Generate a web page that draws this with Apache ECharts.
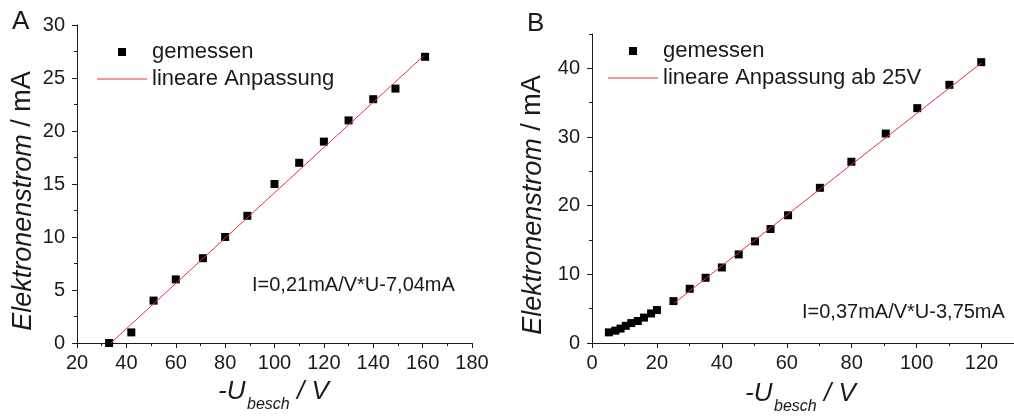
<!DOCTYPE html>
<html>
<head>
<meta charset="utf-8">
<script src="https://cdn.jsdelivr.net/npm/echarts@6/dist/echarts.min.js"></script>
<style>
  html, body { margin: 0; padding: 0; background: #fff; }
  #chart { width: 1014px; height: 417px; }
</style>
</head>
<body>
<div id="chart"></div>
<script>
// Panel A: gemessen
const uA = [33, 42, 51, 60, 71, 80, 89, 100, 110, 120, 130, 140, 149, 161];
const iA = [0, 1, 4, 6, 8, 10, 12, 15, 17, 19, 21, 23, 24, 27];
// Panel A: lineare Anpassung (Endpunkte)
const fitAx = [33.7, 160.5];
const fitAy = [0, 27.1];

// Panel B: gemessen
const uB = [5.2, 7.2, 8.8, 10.4, 12.1, 14.1, 16, 18.2, 20, 25.1, 30.1, 35, 40, 45.2, 50.2, 55, 60.4, 70.2, 79.9, 90.5, 100.2, 110.1, 119.9];
const iB = [1.55, 1.8, 2.1, 2.5, 2.9, 3.2, 3.7, 4.3, 4.8, 6.1, 7.9, 9.5, 11.0, 12.9, 14.8, 16.6, 18.6, 22.6, 26.4, 30.5, 34.2, 37.6, 40.9];
// Panel B: lineare Anpassung ab 25V (Endpunkte)
const fitBx = [25.3, 120];
const fitBy = [5.8, 40.8];

// tick labels
const ticksAx = [20, 40, 60, 80, 100, 120, 140, 160, 180];
const ticksAy = [0, 5, 10, 15, 20, 25, 30];
const ticksBx = [0, 20, 40, 60, 80, 100, 120];
const ticksBy = [0, 10, 20, 30, 40];

const FONT = '"Liberation Sans", Arial, sans-serif';
const INK = '#1a1a1a';
const RED = '#e8303a';

// legend icons: a small square and a plain thin line
const ICON_SQUARE = 'path://M0 0H1V1H0Z';
const ICON_LINE = 'path://M0 0H50V1H0Z';

const pairs = (xs, ys) => xs.map((x, i) => [x, ys[i]]);

// one axis for the short (minor) ticks and the line, one on top for long ticks + labels
function axisPair(dim, grid, min, max, step, majors) {
  const pos = dim === 'x' ? 'bottom' : 'left';
  const line = { color: INK, width: 1 };
  return [
    {
      type: 'value', gridIndex: grid, position: pos, min: min, max: max, interval: step,
      axisLine: { show: true, onZero: false, lineStyle: line },
      axisTick: { show: true, length: 3, lineStyle: line },
      axisLabel: { show: false },
      splitLine: { show: false }
    },
    {
      type: 'value', gridIndex: grid, position: pos, min: min, max: max,
      axisLine: { show: false, onZero: false },
      axisTick: { show: true, length: 5, customValues: majors, lineStyle: line },
      axisLabel: {
        customValues: majors, fontSize: 20, color: INK, fontFamily: FONT,
        margin: dim === 'x' ? 10 : 12
      },
      splitLine: { show: false }
    }
  ];
}

const legendText = { fontSize: 22, color: INK, fontFamily: FONT };

function xTitle(x, y) {
  return {
    type: 'group', x: x, y: y,
    children: [
      { type: 'text', x: 0, y: 0, style: { text: '-U', font: 'italic 26px ' + FONT, fill: INK, textVerticalAlign: 'middle', verticalAlign: 'middle' } },
      { type: 'text', x: 29, y: 13, style: { text: 'besch', font: 'italic 16px ' + FONT, fill: INK, textVerticalAlign: 'middle', verticalAlign: 'middle' } },
      { type: 'text', x: 79, y: 0, style: { text: '/ V', font: 'italic 26px ' + FONT, fill: INK, textVerticalAlign: 'middle', verticalAlign: 'middle' } }
    ]
  };
}

function yTitle(x, y) {
  return {
    type: 'text', x: x, y: y, rotation: Math.PI / 2,
    style: {
      text: '{i|Elektronenstrom} / mA',
      font: '27px ' + FONT, fill: INK,
      textAlign: 'center', align: 'center',
      textVerticalAlign: 'middle', verticalAlign: 'middle',
      rich: { i: { fontStyle: 'italic', fontSize: 27, fontFamily: FONT, color: INK } }
    }
  };
}

function plainText(str, x, y, size) {
  return {
    type: 'text', x: x, y: y,
    style: { text: str, font: size + 'px ' + FONT, fill: INK, textVerticalAlign: 'middle', verticalAlign: 'middle' }
  };
}

const chart = echarts.init(document.getElementById('chart'));

chart.setOption({
  animation: false,
  backgroundColor: '#fff',
  grid: [
    { left: 77, top: 25, width: 395, height: 318 },
    { left: 592, top: 34, width: 438, height: 309 }
  ],
  xAxis: [
    ...axisPair('x', 0, 20, 180, 10, ticksAx),
    ...axisPair('x', 1, 0, 130, 10, ticksBx)
  ],
  yAxis: [
    ...axisPair('y', 0, 0, 30, 2.5, ticksAy),
    ...axisPair('y', 1, 0, 45, 5, ticksBy)
  ],
  legend: [
    {
      orient: 'vertical', left: 97, top: 41, padding: 0, itemGap: 5,
      itemWidth: 50, itemHeight: 8, textStyle: legendText,
      data: [
        { name: 'gemessen', icon: ICON_SQUARE },
        { name: 'lineare Anpassung', icon: ICON_LINE }
      ]
    },
    {
      orient: 'vertical', left: 608, top: 40, padding: 0, itemGap: 5,
      itemWidth: 50, itemHeight: 8, textStyle: legendText,
      data: [
        { name: 'gemessen', icon: ICON_SQUARE },
        { name: 'lineare Anpassung ab 25V', icon: ICON_LINE }
      ]
    }
  ],
  series: [
    {
      name: 'gemessen', type: 'scatter', xAxisIndex: 0, yAxisIndex: 0,
      symbol: 'rect', symbolSize: 8, itemStyle: { color: '#000', opacity: 1 },
      data: pairs(uA, iA)
    },
    {
      name: 'lineare Anpassung', type: 'line', xAxisIndex: 0, yAxisIndex: 0,
      symbol: 'none', lineStyle: { color: RED, width: 1 }, itemStyle: { color: RED },
      data: pairs(fitAx, fitAy)
    },
    {
      name: 'gemessen', type: 'scatter', xAxisIndex: 2, yAxisIndex: 2,
      symbol: 'rect', symbolSize: 8, itemStyle: { color: '#000', opacity: 1 },
      data: pairs(uB, iB)
    },
    {
      name: 'lineare Anpassung ab 25V', type: 'line', xAxisIndex: 2, yAxisIndex: 2,
      symbol: 'none', lineStyle: { color: RED, width: 1 }, itemStyle: { color: RED },
      data: pairs(fitBx, fitBy)
    }
  ],
  graphic: [
    plainText('A', 12, 22, 26),
    plainText('B', 527, 24, 26),
    yTitle(23, 201),
    yTitle(533, 205),
    xTitle(218, 392),
    xTitle(745, 394),
    plainText('I=0,21mA/V*U-7,04mA', 252, 285, 20),
    plainText('I=0,37mA/V*U-3,75mA', 802, 312, 20)
  ]
});
</script>
</body>
</html>
